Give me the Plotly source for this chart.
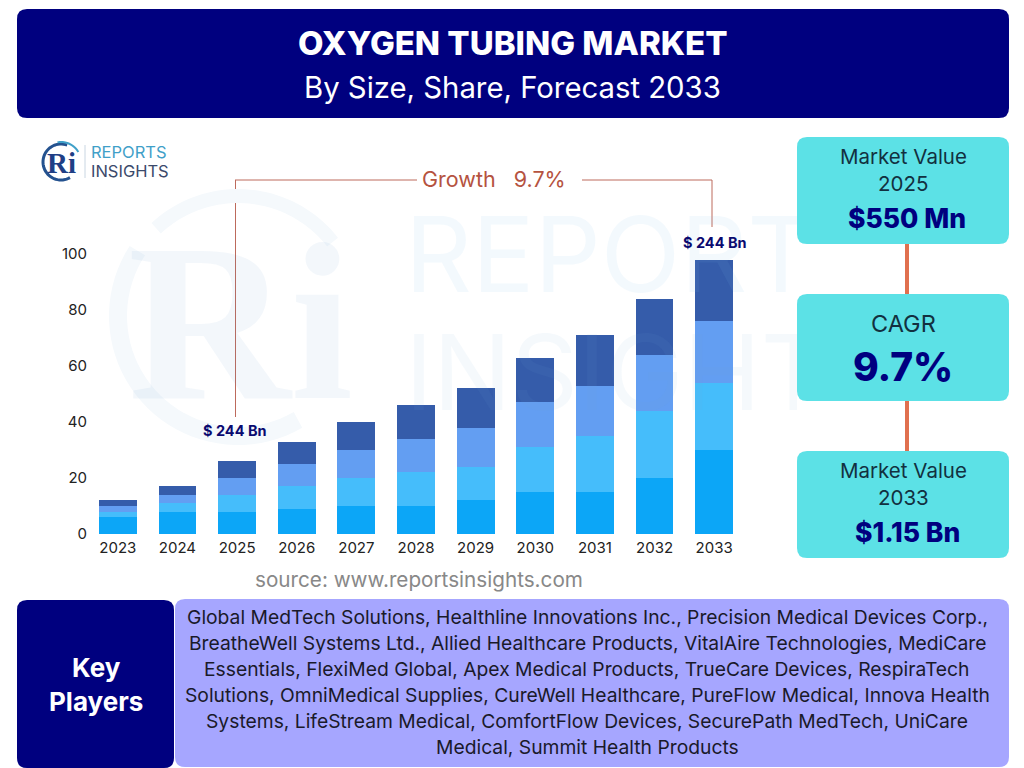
import numpy as np
import plotly.graph_objects as go

W = 1024
H = 768
FONT = "Inter"
NAVY = "#00007f"
CYAN = "#5ce1e6"
LAVENDER = "#a6a6ff"
LINE_RED = "#bd6a5c"

years = ["2023", "2024", "2025", "2026", "2027", "2028", "2029", "2030", "2031", "2032", "2033"]
seg_1 = [6, 8, 8, 9, 10, 10, 12, 15, 15, 20, 30]
seg_2 = [2, 3, 6, 8, 10, 12, 12, 16, 20, 24, 24]
seg_3 = [2, 3, 6, 8, 10, 12, 14, 16, 18, 20, 22]
seg_4 = [2, 3, 6, 8, 10, 12, 14, 16, 18, 20, 22]
seg_colors = ["#0ca6f7", "#45bdfb", "#639ef2", "#355caa"]
y_ticks = [0, 20, 40, 60, 80, 100]

players = [
    "Global MedTech Solutions, Healthline Innovations Inc., Precision Medical Devices Corp.,",
    "BreatheWell Systems Ltd., Allied Healthcare Products, VitalAire Technologies, MediCare",
    "Essentials, FlexiMed Global, Apex Medical Products, TrueCare Devices, RespiraTech",
    "Solutions, OmniMedical Supplies, CureWell Healthcare, PureFlow Medical, Innova Health",
    "Systems, LifeStream Medical, ComfortFlow Devices, SecurePath MedTech, UniCare",
    "Medical, Summit Health Products",
]


def px(x):
    return x / W


def py(y):
    return 1 - y / H


def round_rect(x0, y0, x1, y1, r, color):
    a, b, c, d = px(x0), px(x1), py(y0), py(y1)
    rx, ry = r / W, r / H
    path = (f"M {a + rx} {c} L {b - rx} {c} Q {b} {c} {b} {c - ry} L {b} {d + ry} Q {b} {d} {b - rx} {d} "
            f"L {a + rx} {d} Q {a} {d} {a} {d + ry} L {a} {c - ry} Q {a} {c} {a + rx} {c} Z")
    return dict(type="path", xref="paper", yref="paper", path=path, fillcolor=color, line_width=0, layer="below")


def seg_line(x0, y0, x1, y1, color=LINE_RED, width=1):
    return dict(type="line", xref="paper", yref="paper", x0=px(x0), y0=py(y0), x1=px(x1), y1=py(y1),
                line=dict(color=color, width=width), layer="below")


def arc(cx, cy, r, start, end, color, width):
    t = np.radians(np.linspace(start, end, 40))
    pts = [f"{px(cx + r * np.cos(v)):.5f} {py(cy - r * np.sin(v)):.5f}" for v in t]
    return dict(type="path", xref="paper", yref="paper", path="M " + " L ".join(pts),
                line=dict(color=color, width=width), layer="below")


def label(x, y, text, size, color="#111111", weight=400, anchor="center", font=FONT, box_h=None, box_w=None):
    return dict(xref="paper", yref="paper", x=px(x), y=py(y), text=text, showarrow=False, xanchor=anchor,
                yanchor="middle", height=box_h, width=box_w, align="left" if box_w else "center",
                font=dict(family=font, size=size, color=color, weight=weight))


fig = go.Figure()
for i, seg in enumerate([seg_1, seg_2, seg_3, seg_4]):
    fig.add_trace(go.Bar(x=years, y=seg, marker=dict(color=seg_colors[i], line_width=0), showlegend=False))

shapes = [
    round_rect(17, 9, 1009, 118, 10, NAVY),
    round_rect(797, 137, 1009, 244, 10, CYAN),
    round_rect(797, 294, 1009, 401, 10, CYAN),
    round_rect(797, 451, 1009, 558, 10, CYAN),
    round_rect(17, 600, 174, 768, 10, NAVY),
    round_rect(175, 599, 1009, 767, 10, LAVENDER),
    seg_line(907, 244, 907, 294, "#e0704f", 4),
    seg_line(907, 401, 907, 451, "#e0704f", 4),
    seg_line(235.5, 180, 235.5, 417),
    seg_line(235, 180, 417, 180),
    seg_line(582, 180, 712, 180),
    seg_line(712, 180, 712, 227),
    # watermark ring
    arc(238, 316, 120, 147, 300, "#f5f9fc", 18),
    arc(238, 316, 120, 38, 133, "#f5f9fc", 14),
    # logo
    arc(61, 162, 18, 70, 300, "#24528f", 3),
    arc(61, 162, 20, 30, 100, "#3fa0c8", 2),
    seg_line(85, 145, 85, 178, "#c9d6e2", 1),
]

annotations = [
    label(513, 43, "OXYGEN TUBING MARKET", 33, "#ffffff", 800),
    label(512, 87, "By Size, Share, Forecast 2033", 29.3, "#ffffff"),
    # watermark, cut off where the cards start
    label(403, 254, "REPORTS", 104, "rgba(120,190,230,0.09)", 400, anchor="left", box_h=84, box_w=392),
    label(403, 372, "INSIGHTS", 104, "rgba(120,170,210,0.07)", 400, anchor="left", box_h=84, box_w=392),
    label(240, 322, "Ri", 225, "rgba(90,140,200,0.07)", 700, font="Liberation Serif", box_h=190),
    # logo
    label(61, 163, "Ri", 29, "#1f3f86", 700, font="Liberation Serif"),
    label(89, 152, "REPORTS", 16.5, "#3fa0c8", anchor="left"),
    label(89, 171, "INSIGHTS", 16.5, "#3b4a6b", anchor="left"),
    # growth callout
    label(493.5, 179, "Growth&nbsp;&nbsp;&nbsp;9.7%", 21.5, "#b5533f"),
    label(235, 430, "$ 244 Bn", 14.5, "#0a0a70", 700),
    label(715, 242, "$ 244 Bn", 14.5, "#0a0a70", 700),
    label(419, 579, "source: www.reportsinsights.com", 20.7, "#888888"),
    # cards
    label(903, 156, "Market Value", 20.5, "#123040"),
    label(903, 183, "2025", 20.5, "#123040"),
    label(907, 218, "$550 Mn", 26.5, NAVY, 800),
    label(903, 323, "CAGR", 23.5, "#123040"),
    label(903, 366, "9.7%", 39, NAVY, 800),
    label(903, 470, "Market Value", 20.5, "#123040"),
    label(903, 497, "2033", 20.5, "#123040"),
    label(907, 532, "$1.15 Bn", 26.5, NAVY, 800),
    # key players
    label(96, 667, "Key", 26, "#ffffff", 700),
    label(96, 701, "Players", 26, "#ffffff", 700),
]
for i, line in enumerate(players):
    annotations.append(label(587, 617 + i * 26, line, 19.3, "#1a1a2a"))

fig.update_layout(
    width=W,
    height=H,
    margin=dict(l=0, r=0, t=0, b=0),
    paper_bgcolor="#ffffff",
    plot_bgcolor="rgba(0,0,0,0)",
    barmode="stack",
    bargap=0.365,
    shapes=shapes,
    annotations=annotations,
    showlegend=False,
    font=dict(family=FONT),
)
fig.update_xaxes(domain=[px(88), px(744)], type="category", showgrid=False, showline=False, ticks="",
                 automargin=False, ticklabelstandoff=3, tickfont=dict(family=FONT, size=15, color="#222222"))
fig.update_yaxes(domain=[py(534), py(254)], range=[0, 100], tickvals=y_ticks, showgrid=False, showline=False,
                 zeroline=False, ticks="", automargin=False, tickfont=dict(family=FONT, size=15, color="#222222"))

# the page's default body margin would shift everything by 8px
fig.write_html("out.html", config={"displayModeBar": False}, post_script="document.body.style.margin='0';")
